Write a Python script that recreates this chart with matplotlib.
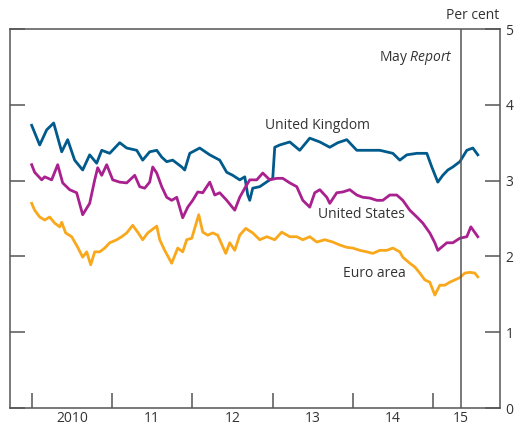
# -*- coding: utf-8 -*-
## Ten-year government bond yields
import matplotlib.pyplot as plt

plt.rcParams['font.family'] = ['Open Sans', 'DejaVu Sans']
plt.rcParams['mathtext.fontset'] = 'custom'
plt.rcParams['mathtext.rm'] = 'Open Sans'
plt.rcParams['mathtext.it'] = 'Open Sans:italic'

# UK (decimal years, per cent)
uk_t = [2010.000, 2010.100, 2010.187, 2010.274, 2010.374, 2010.448, 2010.535, 2010.635,
        2010.722, 2010.809, 2010.872, 2010.971, 2011.096, 2011.183, 2011.308, 2011.382,
        2011.469, 2011.557, 2011.619, 2011.681, 2011.756, 2011.868, 2011.905, 2011.968,
        2012.092, 2012.217, 2012.341, 2012.428, 2012.503, 2012.590, 2012.653, 2012.690,
        2012.715, 2012.752, 2012.839, 2012.964, 2013.001, 2013.026, 2013.088, 2013.213,
        2013.337, 2013.462, 2013.587, 2013.711, 2013.811, 2013.923, 2014.047, 2014.172,
        2014.334, 2014.496, 2014.583, 2014.670, 2014.795, 2014.919, 2014.981, 2015.056,
        2015.118, 2015.181, 2015.243, 2015.330, 2015.417, 2015.492, 2015.554]
uk_v = [3.73, 3.47, 3.67, 3.76, 3.38, 3.54, 3.27, 3.14,
        3.34, 3.23, 3.40, 3.36, 3.50, 3.43, 3.40, 3.27,
        3.38, 3.40, 3.31, 3.25, 3.27, 3.18, 3.14, 3.36,
        3.43, 3.34, 3.27, 3.11, 3.07, 3.01, 3.05, 2.81,
        2.74, 2.90, 2.92, 3.01, 3.03, 3.44, 3.47, 3.51,
        3.40, 3.56, 3.51, 3.44, 3.50, 3.54, 3.40, 3.40,
        3.40, 3.36, 3.27, 3.34, 3.36, 3.36, 3.18, 2.98,
        3.07, 3.14, 3.18, 3.25, 3.40, 3.43, 3.34]

# US
us_t = [2010.000, 2010.037, 2010.125, 2010.162, 2010.249, 2010.324, 2010.386, 2010.473,
        2010.560, 2010.635, 2010.722, 2010.785, 2010.822, 2010.872, 2010.934, 2011.009,
        2011.096, 2011.183, 2011.283, 2011.345, 2011.407, 2011.469, 2011.507, 2011.557,
        2011.619, 2011.681, 2011.743, 2011.806, 2011.880, 2011.943, 2012.005, 2012.067,
        2012.130, 2012.217, 2012.279, 2012.341, 2012.428, 2012.528, 2012.590, 2012.653,
        2012.715, 2012.802, 2012.877, 2012.964, 2013.051, 2013.126, 2013.213, 2013.300,
        2013.375, 2013.462, 2013.524, 2013.587, 2013.674, 2013.711, 2013.798, 2013.873,
        2013.960, 2014.047, 2014.122, 2014.209, 2014.296, 2014.371, 2014.458, 2014.545,
        2014.620, 2014.707, 2014.795, 2014.869, 2014.956, 2015.019, 2015.056, 2015.168,
        2015.243, 2015.330, 2015.417, 2015.467, 2015.554]
us_v = [3.21, 3.11, 3.01, 3.05, 3.01, 3.21, 2.97, 2.88,
        2.84, 2.55, 2.70, 3.01, 3.17, 3.07, 3.21, 3.01,
        2.98, 2.97, 3.07, 2.92, 2.90, 2.98, 3.18, 3.10,
        2.92, 2.78, 2.74, 2.78, 2.51, 2.65, 2.74, 2.85,
        2.84, 2.98, 2.81, 2.84, 2.74, 2.61, 2.78, 2.90,
        3.01, 3.01, 3.10, 3.01, 3.03, 3.03, 2.97, 2.92,
        2.74, 2.65, 2.84, 2.88, 2.78, 2.70, 2.84, 2.85,
        2.88, 2.81, 2.78, 2.77, 2.74, 2.74, 2.81, 2.81,
        2.74, 2.61, 2.52, 2.44, 2.31, 2.18, 2.08, 2.18,
        2.18, 2.24, 2.26, 2.39, 2.26]

# Euro area
ea_t = [2010.000, 2010.037, 2010.100, 2010.162, 2010.224, 2010.286, 2010.349, 2010.374,
        2010.423, 2010.498, 2010.573, 2010.635, 2010.685, 2010.735, 2010.785, 2010.847,
        2010.909, 2010.971, 2011.059, 2011.121, 2011.183, 2011.258, 2011.320, 2011.382,
        2011.445, 2011.557, 2011.594, 2011.656, 2011.743, 2011.818, 2011.880, 2011.930,
        2011.993, 2012.080, 2012.130, 2012.192, 2012.254, 2012.316, 2012.416, 2012.466,
        2012.528, 2012.590, 2012.665, 2012.752, 2012.839, 2012.927, 2013.026, 2013.113,
        2013.213, 2013.300, 2013.375, 2013.462, 2013.549, 2013.649, 2013.748, 2013.836,
        2013.923, 2013.998, 2014.085, 2014.172, 2014.247, 2014.334, 2014.421, 2014.496,
        2014.583, 2014.620, 2014.707, 2014.770, 2014.832, 2014.894, 2014.956, 2015.019,
        2015.081, 2015.143, 2015.205, 2015.268, 2015.330, 2015.392, 2015.455, 2015.517,
        2015.554]
ea_v = [2.70, 2.61, 2.52, 2.48, 2.52, 2.44, 2.39, 2.45,
        2.31, 2.26, 2.12, 1.99, 2.06, 1.89, 2.06, 2.06,
        2.11, 2.18, 2.22, 2.26, 2.31, 2.41, 2.32, 2.22,
        2.31, 2.40, 2.22, 2.08, 1.91, 2.11, 2.06, 2.22,
        2.24, 2.55, 2.32, 2.28, 2.31, 2.28, 2.04, 2.18,
        2.08, 2.28, 2.37, 2.31, 2.22, 2.26, 2.22, 2.32,
        2.26, 2.26, 2.22, 2.26, 2.19, 2.22, 2.19, 2.15,
        2.12, 2.11, 2.08, 2.06, 2.04, 2.08, 2.08, 2.11,
        2.06, 1.99, 1.91, 1.86, 1.78, 1.69, 1.66, 1.49,
        1.62, 1.62, 1.66, 1.69, 1.72, 1.78, 1.79, 1.78,
        1.73]

year_starts = [2010, 2011, 2012, 2013, 2014, 2015]
year_labels = ['2010', '11', '12', '13', '14', '15']
label_pos = [2010.5, 2011.5, 2012.5, 2013.5, 2014.5, 2015.34]
may_report = 2015.34

axis_col = '#555555'
text_col = '#333333'

fig = plt.figure(figsize=(5.17, 4.28), dpi=100)
ax = fig.add_axes([0.0193, 0.0467, 0.9478, 0.8855])

# lines
ax.plot(uk_t, uk_v, color='#005a8c', lw=2.0)
ax.plot(us_t, us_v, color='#a9218e', lw=2.0)
ax.plot(ea_t, ea_v, color='#f9a81b', lw=2.0)

# May Report line
ax.axvline(may_report, color=axis_col, lw=1.1)

ax.set_xlim(2009.73, 2015.83)
ax.set_ylim(0, 5)

# x axis: tick marks at year starts, labels mid-year
ax.set_xticks(year_starts)
ax.set_xticklabels([])
ax.set_xticks(label_pos, minor=True)
ax.set_xticklabels(year_labels, minor=True)
ax.tick_params(axis='x', which='major', direction='in', length=11, width=1.1, color=axis_col)
ax.tick_params(axis='x', which='minor', length=0, pad=2, labelsize=10, labelcolor=text_col)

# y axis: ticks both sides, labels on right
ax.set_yticks([0, 1, 2, 3, 4, 5])
ax.tick_params(axis='y', direction='in', length=11, width=1.1, color=axis_col,
               left=True, right=True, labelleft=False, labelright=True,
               pad=4, labelsize=10, labelcolor=text_col)

for s in ax.spines.values():
    s.set_color(axis_col)
    s.set_linewidth(1.1)

# labels
ax.text(2012.91, 3.73, 'United Kingdom', fontsize=10, color=text_col, va='center', ha='left')
ax.text(2014.65, 2.55, 'United States', fontsize=10, color=text_col, va='center', ha='right')
ax.text(2014.66, 1.77, 'Euro area', fontsize=10, color=text_col, va='center', ha='right')
ax.text(2015.24, 4.62, 'May $\\it{Report}$', fontsize=10, color=text_col, va='center', ha='right')
fig.text(0.965, 0.963, 'Per cent', fontsize=10, color=text_col, va='center', ha='right')

plt.savefig('out.png', dpi=100)
